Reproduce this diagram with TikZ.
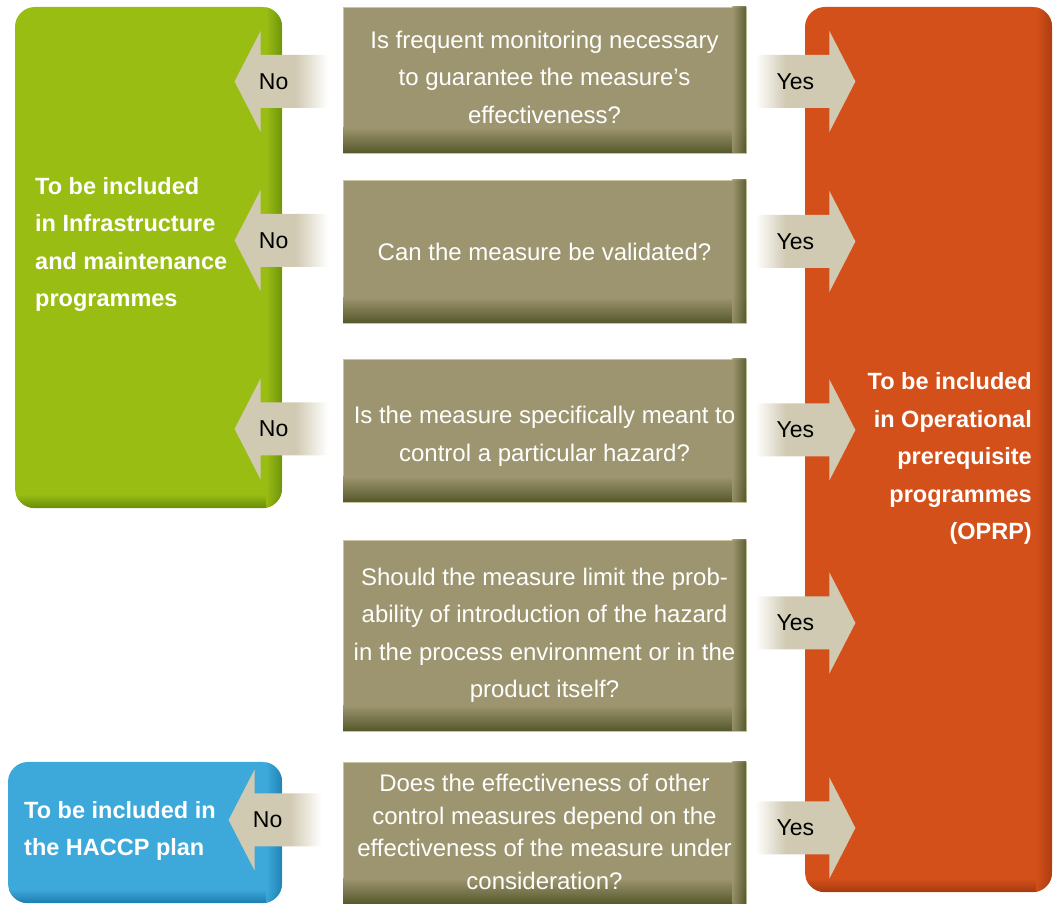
\documentclass[tikz,border=0pt]{standalone}
\usepackage{fontspec}
\setmainfont{Liberation Sans}
\usepackage{xcolor}
\usepackage{tikz}
\usetikzlibrary{positioning,calc}

\definecolor{infragreen}{HTML}{9ABD14}
\definecolor{infradark}{HTML}{678C0A}
\definecolor{oprporange}{HTML}{D4501A}
\definecolor{oprpdark}{HTML}{A53A10}
\definecolor{haccpblue}{HTML}{3DA9DA}
\definecolor{haccpdark}{HTML}{1D7DAE}
\definecolor{qolive}{HTML}{9D956F}
\definecolor{qdark}{HTML}{55582B}
\definecolor{qedge}{HTML}{C9C5A2}
\definecolor{arrowfill}{HTML}{D1CAB3}

\pgfdeclarehorizontalshading{nofade}{100bp}{color(0bp)=(arrowfill); color(25bp)=(arrowfill); color(58bp)=(arrowfill); color(75bp)=(white); color(100bp)=(white)}
\pgfdeclarehorizontalshading{yesfade}{100bp}{color(0bp)=(white); color(25bp)=(white); color(40bp)=(arrowfill); color(75bp)=(arrowfill); color(100bp)=(arrowfill)}

\begin{document}
\begin{tikzpicture}[x=1pt, y=1pt,
    outcome/.style={rounded corners=20pt, inner sep=0pt},
    outtext/.style={text=white, inner sep=0pt, font=\fontsize{23.5}{37.5}\selectfont\bfseries},
    question/.style={fill=qolive, draw=qedge, line width=0.8pt, inner sep=0pt,
        minimum width=403pt},
    qtext/.style={text=white, align=center, inner sep=0pt, font=\fontsize{24}{37.5}\selectfont},
    answer/.style={text=black, inner sep=0pt, font=\fontsize{23}{23}\selectfont},
    noarrow/.pic={
        \shade[shading=nofade] (-108,0) -- (-82,50.5) -- (-82,26.5) -- (-15,26.5)
            -- (-15,-26.5) -- (-82,-26.5) -- (-82,-50.5) -- cycle;
        \node[answer] (-label) at (-69,0) {No};
    },
    yesarrow/.pic={
        \shade[shading=yesfade] (109,0) -- (83,50.5) -- (83,26.5) -- (9,26.5)
            -- (9,-26.5) -- (83,-26.5) -- (83,-50.5) -- cycle;
        \node[answer] (-label) at (49,0) {Yes};
    }]
    \useasboundingbox (0,0) rectangle (1054,904);

    % Outcome boxes
    \node[outcome, fill=infragreen, minimum width=267pt, minimum height=501pt] (infra) at (148.5,646.5) {};
    \node[outcome, fill=oprporange, minimum width=247pt, minimum height=885pt] (oprp) at (928.5,454.5) {};
    \node[outcome, fill=haccpblue, minimum width=274pt, minimum height=141pt] (haccp) at (145,71.5) {};

    % Edge shadows of the outcome boxes
    \foreach \ob/\main/\dark in {infra/infragreen/infradark, oprp/oprporange/oprpdark, haccp/haccpblue/haccpdark} {
        \begin{scope}
            \clip[rounded corners=20pt] (\ob.south west) rectangle (\ob.north east);
            \shade[top color=\main, bottom color=\dark] (\ob.south west) rectangle ($(\ob.south east)+(0,14)$);
            \shade[left color=\main, right color=\dark, opacity=0.85] ($(\ob.north east)+(-16,0)$) rectangle (\ob.south east);
        \end{scope}
    }

    \node[outtext, anchor=west, align=left] (infratext) at (35,659.5) {To be included\\in Infrastructure\\and maintenance\\programmes};
    \node[outtext, anchor=east, align=right] (oprptext) at (1032,445.5) {To be included\\in Operational\\prerequisite\\programmes\\(OPRP)};
    \node[outtext, anchor=west, align=left] (haccptext) at (24,73) {To be included in\\the HACCP plan};

    % Questions
    \node[question, minimum height=146pt] (q1) at (544.5,824) {};
    \node[question, minimum height=143pt] (q2) at (544.5,652.5) {};
    \node[question, minimum height=143pt] (q3) at (544.5,473.5) {};
    \node[question, minimum height=191pt] (q4) at (544.5,268.5) {};
    \node[question, minimum height=142pt] (q5) at (544.5,71) {};

    \foreach \q in {q1,q2,q3,q4,q5} {
        \shade[top color=qolive, bottom color=qdark] ($(\q.south west)+(0.4,26)$) rectangle ($(\q.south east)+(-0.4,0.4)$);
        \shade[left color=qolive, right color=qdark, opacity=0.85] ($(\q.north east)+(-14,-0.4)$) rectangle ($(\q.south east)+(-0.4,0.4)$);
    }

    \node[qtext] (q1text) at ($(q1)+(0,3)$) {Is frequent monitoring necessary\\to guarantee the measure’s\\effectiveness?};
    \node[qtext] (q2text) at (q2) {Can the measure be validated?};
    \node[qtext] (q3text) at ($(q3)+(0,-6)$) {Is the measure specifically meant to\\control a particular hazard?};
    \node[qtext] (q4text) at (q4) {Should the measure limit the prob-\\ability of introduction of the hazard\\in the process environment or in the\\product itself?};
    \node[qtext, font=\fontsize{24}{32.5}\selectfont] (q5text) at ($(q5)+(0,1)$) {Does the effectiveness of other\\control measures depend on the\\effectiveness of the measure under\\consideration?};

    % Answers
    \pic (no1) at ($(q1.west)+(0,-1.5)$) {noarrow};
    \pic (no2) at ($(q2.west)+(0,11)$) {noarrow};
    \pic (no3) at ($(q3.west)+(0,1.5)$) {noarrow};
    \pic (no5) at ($(q5.west)+(-6,13)$) {noarrow};

    \pic (yes1) at ($(q1.east)+(0,-1.5)$) {yesarrow};
    \pic (yes2) at ($(q2.east)+(0,10)$) {yesarrow};
    \pic (yes3) at ($(q3.east)+(0,0.5)$) {yesarrow};
    \pic (yes4) at ($(q4.east)+(0,12.5)$) {yesarrow};
    \pic (yes5) at ($(q5.east)+(0,5)$) {yesarrow};
\end{tikzpicture}
\end{document}
